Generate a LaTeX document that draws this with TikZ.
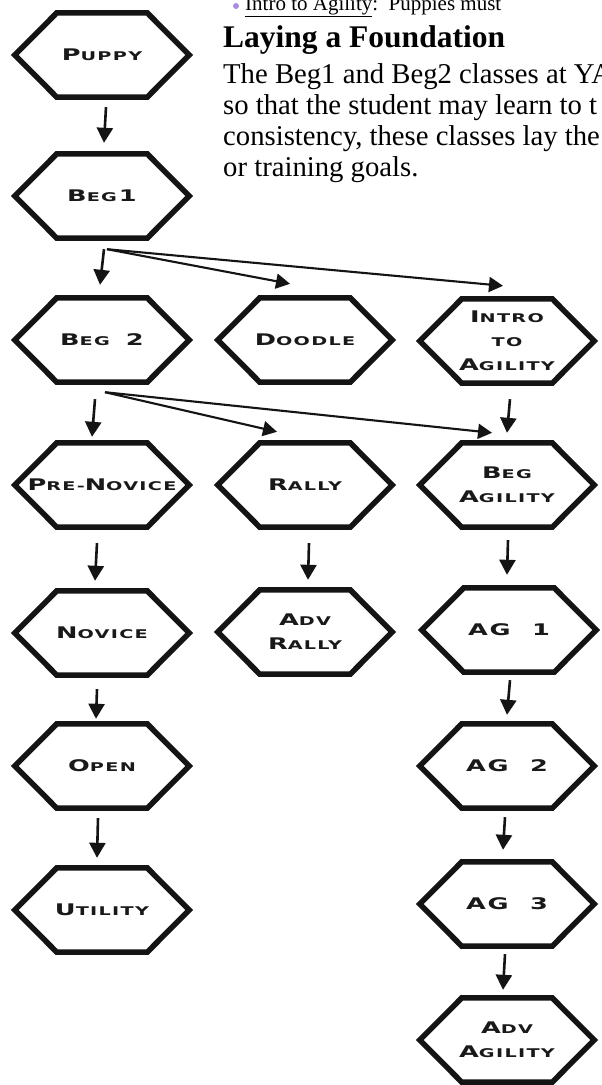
\documentclass[tikz,border=0pt]{standalone}
\usepackage{fontspec}
\setmainfont{Liberation Serif}
\newfontfamily\hexf[FakeStretch=1.6,LetterSpace=11]{DejaVu Sans Bold}
\usetikzlibrary{arrows.meta,calc}
\newcommand\Lg[1]{{\fontsize{16}{24}\selectfont #1}}
\newcommand\Sm[1]{{\fontsize{12}{24}\selectfont #1}}
\begin{document}
\begin{tikzpicture}[x=1pt,y=-1pt,
  hex/.style={minimum width=174pt, minimum height=84pt, inner sep=0pt, align=center,
    font={\hexf\fontsize{12}{24}\selectfont}, text=black!90},
  hexline/.style={line width=5.5pt, line join=miter, black!92},
  arr/.style={line width=2.6pt, -{Triangle[width=16pt,length=15pt]}, black!92},
  fan/.style={line width=2.1pt, -{Triangle[width=15pt,length=14pt]}, black!92},
  txt/.style={anchor=base west, inner sep=0pt, text=black}]
\useasboundingbox (0,0) rectangle (602,1085);
\fill[white] (0,0) rectangle (602,1085);
\begin{scope}
\clip (0,0) rectangle (602,1085);
% header text
\fill[blue!45!violet!45] (236,6) circle (3);
\node[txt, font=\fontsize{21}{24}\selectfont] (topline) at (245,10) {\underline{Intro to Agility}:\ \ Puppies must};
\node[txt, font=\fontsize{31.5}{32}\selectfont\bfseries] (head) at (223,47) {Laying a Foundation};
\node[txt, font=\fontsize{28.7}{31}\selectfont] (l1) at (223,83) {The Beg1 and Beg2 classes at YA};
\node[txt, font=\fontsize{28.7}{31}\selectfont] (l2) at (223,114) {so that the student may learn to t};
\node[txt, font=\fontsize{28.7}{31}\selectfont] (l3) at (223,145) {consistency, these classes lay the};
\node[txt, font=\fontsize{28.7}{31}\selectfont] (l4) at (223,176) {or training goals.};

% nodes
\node[hex] (puppy)    at (102,55)   {\Lg{P}\Sm{UPPY}};
\node[hex] (beg1)     at (102,196)  {\Lg{B}\Sm{EG}\,\Lg{1}};
\node[hex] (beg2)     at (102,340)  {\Lg{B}\Sm{EG}\ \ \Lg{2}};
\node[hex] (prenov)   at (102,485)  {\Lg{P}\Sm{RE-}\Lg{N}\Sm{OVICE}};
\node[hex] (novice)   at (102,633)  {\Lg{N}\Sm{OVICE}};
\node[hex] (open)     at (102,766)  {\Lg{O}\Sm{PEN}};
\node[hex] (utility)  at (102,910)  {\Lg{U}\Sm{TILITY}};
\node[hex] (doodle)   at (305,340)  {\Lg{D}\Sm{OODLE}};
\node[hex] (rally)    at (305,485)  {\Lg{R}\Sm{ALLY}};
\node[hex] (advrally) at (305,632)  {\Lg{A}\Sm{DV}\\\Lg{R}\Sm{ALLY}};
\node[hex] (intro)    at (507,341)  {\Lg{I}\Sm{NTRO}\\\Sm{TO}\\\Lg{A}\Sm{GILITY}};
\node[hex] (begag)    at (507,485)  {\Lg{B}\Sm{EG}\\\Lg{A}\Sm{GILITY}};
\node[hex] (ag1)      at (509,630)  {\Lg{AG\ \ 1}};
\node[hex] (ag2)      at (507,766)  {\Lg{AG\ \ 2}};
\node[hex] (ag3)      at (507,904)  {\Lg{AG\ \ 3}};
\node[hex] (advag)    at (507,1040) {\Lg{A}\Sm{DV}\\\Lg{A}\Sm{GILITY}};

\foreach \n in {puppy,beg1,beg2,prenov,novice,open,utility,doodle,rally,advrally,intro,begag,ag1,ag2,ag3,advag}
  \draw[hexline] (\n.west) -- ([xshift=42pt]\n.north west) -- ([xshift=-42pt]\n.north east)
     -- (\n.east) -- ([xshift=-42pt]\n.south east) -- ([xshift=42pt]\n.south west) -- cycle;

% vertical arrows
\draw[arr] ([shift={(4,10)}]puppy.south) -- ([shift={(2,-11)}]beg1.north);
\draw[arr] ([shift={(2,11)}]beg1.south) -- ([shift={(-2,-13)}]beg2.north);
\draw[arr] ([shift={(-7,17)}]beg2.south) -- ([shift={(-10,-6)}]prenov.north);
\draw[arr] ([shift={(-5,16)}]prenov.south) -- ([shift={(-7,-10)}]novice.north);
\draw[arr] ([shift={(-5,14)}]novice.south) -- ([shift={(-6,-5)}]open.north);
\draw[arr] ([shift={(-4,10)}]open.south) -- ([shift={(-5,-10)}]utility.north);
\draw[arr] ([shift={(4,16)}]rally.south) -- ([shift={(3,-10)}]advrally.north);
\draw[arr] ([shift={(3,16)}]intro.south) -- ([shift={(0,-10)}]begag.north);
\draw[arr] ([shift={(1,13)}]begag.south) -- ([shift={(-2,-13)}]ag1.north);
\draw[arr] ([shift={(1,8)}]ag1.south) -- ([shift={(0,-9)}]ag2.north);
\draw[arr] ([shift={(-2,9)}]ag2.south) -- ([shift={(-4,-12)}]ag3.north);
\draw[arr] ([shift={(-2,8)}]ag3.south) -- ([shift={(-4,-8)}]advag.north);
% fan arrows
\draw[fan] ([shift={(5,11)}]beg1.south) -- ([shift={(-15,-14)}]doodle.north);
\draw[fan] ([shift={(5,11)}]beg1.south) -- ([shift={(-4,-13)}]intro.north);
\draw[fan] ([shift={(3,10)}]beg2.south) -- ([shift={(-28,-11)}]rally.north);
\draw[fan] ([shift={(3,10)}]beg2.south) -- ([shift={(-15,-10)}]begag.north);
\end{scope}
\end{tikzpicture}
\end{document}
